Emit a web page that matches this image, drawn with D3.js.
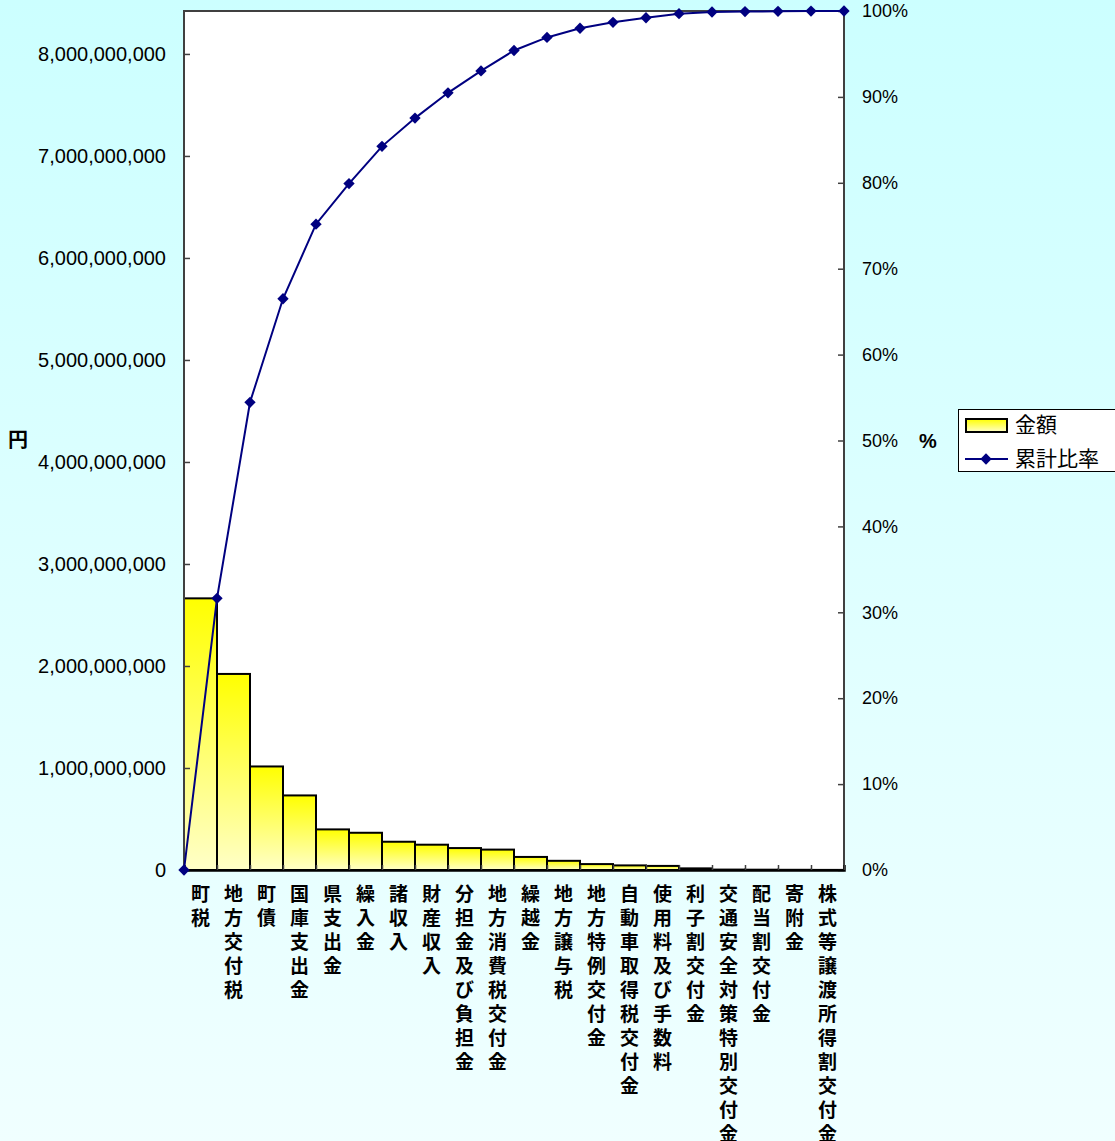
<!DOCTYPE html>
<html>
<head>
<meta charset="utf-8">
<script src="https://cdn.jsdelivr.net/npm/d3@7"></script>
<style>
  body { margin: 0; }
  text { font-family: "Liberation Sans", Arial, sans-serif; fill: #000; }
  .cat, .jp { font-family: "Noto Sans CJK JP", sans-serif; }
</style>
</head>
<body>
<svg class="chart"></svg>
<script>
var width = 1115,
    height = 1141;

// 歳入の項目 (金額の大きい順)
var categories = ["町税", "地方交付税", "町債", "国庫支出金", "県支出金", "繰入金", "諸収入", "財産収入",
  "分担金及び負担金", "地方消費税交付金", "繰越金", "地方譲与税", "地方特例交付金", "自動車取得税交付金",
  "使用料及び手数料", "利子割交付金", "交通安全対策特別交付金", "配当割交付金", "寄附金", "株式等譲渡所得割交付金"];
var amounts = [2663000000, 1922000000, 1015000000, 731000000, 398000000, 365000000, 277000000, 248000000,
  215000000, 200000000, 128000000, 90000000, 58000000, 45000000, 40000000, 16000000,
  4000000, 3000000, 2000000, 1000000];
var leftTicks = [0, 1000000000, 2000000000, 3000000000, 4000000000, 5000000000, 6000000000, 7000000000, 8000000000];
var rightTicks = [0, 0.1, 0.2, 0.3, 0.4, 0.5, 0.6, 0.7, 0.8, 0.9, 1];
var legendNames = ["金額", "累計比率"];

var plotLeft = 184, plotRight = 844, plotTop = 11, plotBottom = 870;

var total = d3.sum(amounts);
var running = 0;
var cumulative = [0].concat(amounts.map(function(v) { running += v; return running / total; }));

var chart = d3.select(".chart")
    .attr("width", width)
    .attr("height", height);

var defs = chart.append("defs");
var bg = defs.append("linearGradient").attr("id", "bg").attr("x1", 0).attr("y1", 0).attr("x2", 0).attr("y2", 1);
bg.append("stop").attr("offset", "0%").attr("stop-color", "#ccffff");
bg.append("stop").attr("offset", "100%").attr("stop-color", "#f0ffff");
var barFill = defs.append("linearGradient").attr("id", "barFill").attr("x1", 0).attr("y1", 0).attr("x2", 0).attr("y2", 1);
barFill.append("stop").attr("offset", "0%").attr("stop-color", "#ffff00");
barFill.append("stop").attr("offset", "100%").attr("stop-color", "#ffffc8");

chart.append("rect") //page background
  .attr("width", width)
  .attr("height", height)
  .attr("fill", "url(#bg)");

chart.append("rect") //plot area
  .attr("x", plotLeft)
  .attr("y", plotTop)
  .attr("width", plotRight - plotLeft)
  .attr("height", plotBottom - plotTop)
  .attr("fill", "#ffffff");

var xscale = d3.scaleBand().domain(categories).range([plotLeft, plotRight]).padding(0);
var yscale = d3.scaleLinear().domain([0, total]).range([plotBottom, plotTop]);
var pscale = d3.scaleLinear().domain([0, 1]).range([plotBottom, plotTop]);
var iscale = d3.scaleLinear().domain([0, categories.length]).range([plotLeft, plotRight]);

// bars
chart.selectAll(".bar")
    .data(amounts)
  .enter().append("rect")
    .attr("class", "bar")
    .attr("x", function(d, i) { return xscale(categories[i]); })
    .attr("y", function(d) { return yscale(d); })
    .attr("width", xscale.bandwidth())
    .attr("height", function(d) { return plotBottom - yscale(d); })
    .attr("fill", "url(#barFill)")
    .attr("stroke", "#000")
    .attr("stroke-width", 2);

// frame (top, left, right)
chart.append("path")
  .attr("d", "M" + plotLeft + "," + plotBottom + "V" + plotTop + "H" + plotRight + "V" + plotBottom)
  .attr("fill", "none")
  .attr("stroke", "#404040")
  .attr("stroke-width", 2);

// left axis
var yAxis = chart.append("g")
  .attr("transform", "translate(" + plotLeft + ",0)")
  .call(d3.axisLeft(yscale).tickValues(leftTicks).tickSize(-6).tickPadding(18).tickFormat(d3.format(",")));
yAxis.select(".domain").remove();
yAxis.selectAll("line").attr("stroke", "#404040").attr("stroke-width", 1.5);
yAxis.selectAll("text").style("font-size", "20px").style("font-family", "Liberation Sans, Arial, sans-serif");

// right axis
var pAxis = chart.append("g")
  .attr("transform", "translate(" + plotRight + ",0)")
  .call(d3.axisRight(pscale).tickValues(rightTicks).tickSize(-6).tickPadding(18).tickFormat(d3.format(".0%")));
pAxis.select(".domain").remove();
pAxis.selectAll("line").attr("stroke", "#404040").attr("stroke-width", 1.5);
pAxis.selectAll("text").style("font-size", "18px").style("font-family", "Liberation Sans, Arial, sans-serif");

// bottom axis, ticks between categories
var xAxis = chart.append("g")
  .attr("transform", "translate(0," + plotBottom + ")")
  .call(d3.axisBottom(iscale).ticks(categories.length).tickSize(-5).tickFormat(""));
xAxis.select(".domain").attr("stroke", "#000").attr("stroke-width", 2.5);
xAxis.selectAll("line").attr("stroke", "#404040").attr("stroke-width", 1.5);

// category labels, one character per line
var labels = chart.selectAll(".cat")
    .data(categories)
  .enter().append("text")
    .attr("class", "cat")
    .attr("text-anchor", "middle")
    .style("font-size", "19px")
    .style("font-weight", "bold");
labels.each(function(c) {
  var t = d3.select(this);
  var cx = xscale(c) + xscale.bandwidth() / 2;
  c.split("").forEach(function(ch, j) {
    t.append("tspan")
      .attr("x", cx)
      .attr("y", 894 + j * 24)
      .attr("dy", ".35em")
      .text(ch);
  });
});

// cumulative line
var line = d3.line()
  .x(function(d, i) { return iscale(i); })
  .y(function(d) { return pscale(d); });

chart.append("path")
  .datum(cumulative)
  .attr("d", line)
  .attr("fill", "none")
  .attr("stroke", "#000080")
  .attr("stroke-width", 2);

var diamond = d3.symbol().type(d3.symbolSquare).size(64);
chart.selectAll(".pt")
    .data(cumulative)
  .enter().append("path")
    .attr("class", "pt")
    .attr("d", diamond)
    .attr("transform", function(d, i) { return "translate(" + iscale(i) + "," + pscale(d) + ") rotate(45)"; })
    .attr("fill", "#000080");

// axis titles
chart.append("text")
  .attr("class", "jp")
  .attr("x", 18)
  .attr("y", 440)
  .attr("dy", ".35em")
  .attr("text-anchor", "middle")
  .style("font-size", "20px")
  .style("font-weight", "bold")
  .text("円");

chart.append("text")
  .attr("x", 928)
  .attr("y", 441)
  .attr("dy", ".35em")
  .attr("text-anchor", "middle")
  .style("font-size", "20px")
  .style("font-weight", "bold")
  .text("%");

// legend
var legend = chart.append("g");
legend.append("rect")
  .attr("x", 958.5)
  .attr("y", 409.5)
  .attr("width", 170)
  .attr("height", 62)
  .attr("fill", "#fff")
  .attr("stroke", "#000")
  .attr("stroke-width", 1);

legend.append("rect")
  .attr("x", 966)
  .attr("y", 419)
  .attr("width", 41)
  .attr("height", 13)
  .attr("fill", "url(#barFill)")
  .attr("stroke", "#000")
  .attr("stroke-width", 2);

legend.append("line")
  .attr("x1", 965)
  .attr("x2", 1008)
  .attr("y1", 459)
  .attr("y2", 459)
  .attr("stroke", "#000080")
  .attr("stroke-width", 2);

legend.append("path")
  .attr("d", diamond)
  .attr("transform", "translate(986,459) rotate(45)")
  .attr("fill", "#000080");

legend.selectAll(".lg")
    .data(legendNames)
  .enter().append("text")
    .attr("class", "jp")
    .attr("x", 1015)
    .attr("y", function(d, i) { return 425 + i * 34; })
    .attr("dy", ".35em")
    .style("font-size", "21px")
    .text(function(d) { return d; });
</script>
</body>
</html>
